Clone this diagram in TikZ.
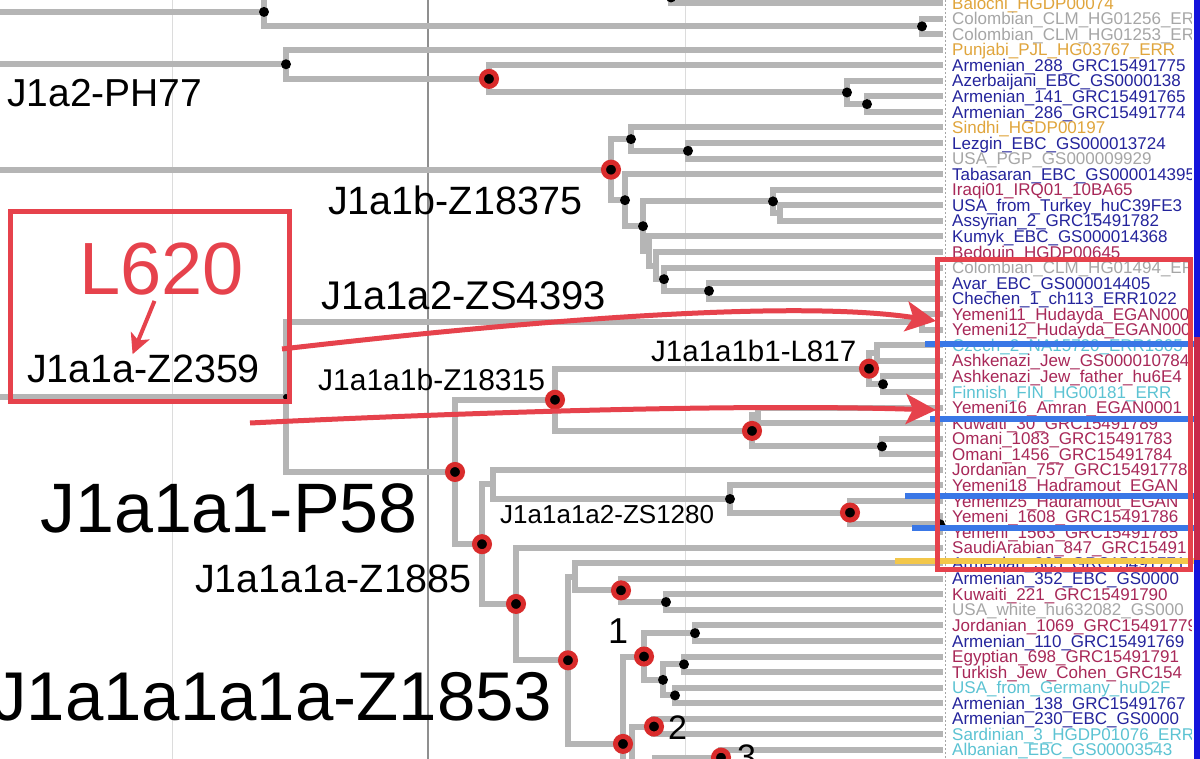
\documentclass[tikz,border=0pt]{standalone}
\usepackage{fontspec}
\setmainfont{Liberation Sans}
\usepackage{tikz}
\usetikzlibrary{arrows.meta,calc}
\definecolor{branchgray}{HTML}{B5B5B5}
\definecolor{gridlight}{HTML}{DCDCDC}
\definecolor{griddark}{HTML}{8F8F8F}
\definecolor{nodered}{HTML}{D92B2B}
\definecolor{markred}{HTML}{E6424C}
\definecolor{barblue}{HTML}{3A77E6}
\definecolor{baryellow}{HTML}{F3C74A}
\definecolor{stripblue}{HTML}{1414DC}
\definecolor{stripred}{HTML}{C8284A}
\definecolor{tgold}{HTML}{E0A53C}
\definecolor{tgray}{HTML}{A6A6A6}
\definecolor{tnavy}{HTML}{24249C}
\definecolor{tcrimson}{HTML}{A82858}
\definecolor{tcyan}{HTML}{5CC3D3}
\newcommand{\fsz}[1]{\fontsize{#1}{#1}\selectfont}
\tikzset{
  >={Stealth[length=30pt,width=30pt,inset=7pt]},
  branch/.style={draw=branchgray,line width=6pt},
  tipdot/.style={circle,fill=black,minimum size=10pt,inner sep=0pt},
  rootdot/.style={circle,fill=black,minimum size=6pt,inner sep=0pt},
  snpdot/.style={circle,fill=black,draw=nodered,line width=5pt,minimum size=15pt,inner sep=0pt},
  leaf/.style={anchor=base west,inner sep=0pt,font=\fsz{17}},
  clade/.style={anchor=base west,inner sep=0pt,text=black},
  hibar/.style={line width=6pt},
  markbox/.style={draw=markred,line width=5pt},
  markflow/.style={->,draw=markred,line width=5pt},
  pointer/.style={-{Stealth[length=20pt,width=20pt,inset=5pt]},draw=markred,line width=4pt},
}

\begin{document}
\begin{tikzpicture}[x=1pt,y=-1pt]
  \useasboundingbox (0,0) rectangle (1200,759);
  \clip (0,0) rectangle (1200,759);
  \fill[white] (0,0) rectangle (1200,759);
  \draw[gridlight,line width=1pt] (172,0) -- (172,759) (685,0) -- (685,759);
  \draw[griddark,line width=1.2pt] (428,0) -- (428,759);
  \draw[gray!70,line width=.8pt,dash pattern=on 2pt off 2pt] (945,0) -- (945,759);

  \coordinate (top) at (943,-8);
  \coordinate (bot) at (943,1114);
  \foreach \i in {1,...,50} \coordinate (l\i) at (943,{3+15.56*(\i-1)});
  \coordinate (Z0) at (671,-2.5);
  \coordinate (CF) at (922,26.34);
  \coordinate (A) at (264,11.92);
  \coordinate (A0) at (-10,11.92);
  \coordinate (E) at (867,104.14);
  \coordinate (D) at (847,92.47);
  \coordinate (C) at (489,78.86);
  \coordinate (B) at (286,64.27);
  \coordinate (B0) at (-10,64.27);
  \coordinate (G) at (688,150.82);
  \coordinate (H) at (631,139.15);
  \coordinate (L) at (780,213.06);
  \coordinate (K) at (773,201.39);
  \coordinate (P) at (709,290.86);
  \coordinate (O) at (664,279.19);
  \coordinate (N) at (656,265.58);
  \coordinate (M) at (649,250.99);
  \coordinate (J) at (643,226.19);
  \coordinate (I) at (625,200.18);
  \coordinate (F) at (611,169.67);
  \coordinate (F0) at (-10,169.67);
  \coordinate (Q) at (922,321.98);
  \coordinate (V) at (877,353.10);
  \coordinate (W) at (883,384.22);
  \coordinate (U) at (869,368.66);
  \coordinate (Y) at (758,415.34);
  \coordinate (Om) at (882,446.46);
  \coordinate (X) at (752,430.90);
  \coordinate (S) at (555,399.78);
  \coordinate (Yf) at (940,524.26);
  \coordinate (AB) at (850,512.59);
  \coordinate (AA) at (730,498.98);
  \coordinate (AC) at (493,484.39);
  \coordinate (AH) at (666,602.06);
  \coordinate (AF) at (621,590.39);
  \coordinate (AG) at (575,576.78);
  \coordinate (AK) at (695,633.18);
  \coordinate (AM) at (684,664.30);
  \coordinate (AN) at (675,695.42);
  \coordinate (AL) at (663,679.86);
  \coordinate (AJ) at (644,656.52);
  \coordinate (AO) at (654,726.54);
  \coordinate (AQ) at (721,757.66);
  \coordinate (AR) at (655,936);
  \coordinate (AP) at (632,831.3);
  \coordinate (AI) at (623,743.9);
  \coordinate (AE) at (568,660.3);
  \coordinate (AD) at (516,603.95);
  \coordinate (T) at (482,544.17);
  \coordinate (R) at (455,471.98);
  \coordinate (Zz) at (286,396.98);
  \coordinate (Zz0) at (-10,396.98);

  \draw[branch] (A0) -- (A) (B0) -- (B) (F0) -- (F) (Zz0) -- (Zz);
  \foreach \p/\c in {Z0/top,Z0/l1,A/Z0,A/CF,CF/l2,CF/l3,
    B/l4,B/C,C/l5,C/D,D/l6,D/E,E/l7,E/l8,
    F/H,F/I,H/l9,H/G,G/l10,G/l11,I/l12,I/J,J/K,J/M,K/l13,K/L,L/l14,L/l15,
    M/l16,M/N,N/l17,N/O,O/l18,O/P,P/l19,P/l20,
    Zz/Q,Zz/R,Q/l21,Q/l22,R/S,R/T,S/U,S/X,U/V,U/W,V/l23,V/l24,W/l25,W/l26,
    X/Y,X/Om,Y/l27,Y/l28,Om/l29,Om/l30,
    T/AC,T/AD,AC/l31,AC/AA,AA/l32,AA/AB,AB/l33,AB/Yf,Yf/l34,Yf/l35,
    AD/l36,AD/AE,AE/AG,AE/AI,AG/l37,AG/AF,AF/l38,AF/AH,AH/l39,AH/l40,
    AI/AJ,AI/AP,AJ/AK,AJ/AL,AK/l41,AK/l42,AL/AM,AL/AN,AM/l43,AM/l44,AN/l45,AN/l46,
    AP/AO,AP/AR,AO/l47,AO/l48,AR/AQ,AR/bot,AQ/l49,AQ/l50}
    \draw[branch] (\p) |- (\c);

  \foreach \n in {Z0,A,CF,B,D,E,H,G,I,J,K,O,P,W,Om,Yf,AA,AH,AK,AM,AN,AL}
    \node[tipdot] (\n-dot) at (\n) {};
  \foreach \n in {C,F,U,X,S,AB,AF,AJ,AO,AQ,AI,AE,AD,T,R}
    \node[snpdot] (\n-dot) at (\n) {};
  \node[rootdot] (Zz-dot) at (Zz) {};

  \begin{scope}
    \clip (940,-20) rectangle (1191,780);
    \foreach \i/\txt/\col in {
      1/Balochi\_HGDP00074/tgold,
      2/Colombian\_CLM\_HG01256\_ERR/tgray,
      3/Colombian\_CLM\_HG01253\_ERR/tgray,
      4/Punjabi\_PJL\_HG03767\_ERR/tgold,
      5/Armenian\_288\_GRC15491775/tnavy,
      6/Azerbaijani\_EBC\_GS0000138/tnavy,
      7/Armenian\_141\_GRC15491765/tnavy,
      8/Armenian\_286\_GRC15491774/tnavy,
      9/Sindhi\_HGDP00197/tgold,
      10/Lezgin\_EBC\_GS000013724/tnavy,
      11/USA\_PGP\_GS000009929/tgray,
      12/Tabasaran\_EBC\_GS000014395/tnavy,
      13/Iraqi01\_IRQ01\_10BA65/tcrimson,
      14/USA\_from\_Turkey\_huC39FE3/tnavy,
      15/Assyrian\_2\_GRC15491782/tnavy,
      16/Kumyk\_EBC\_GS000014368/tnavy,
      17/Bedouin\_HGDP00645/tcrimson,
      18/Colombian\_CLM\_HG01494\_ERR/tgray,
      19/Avar\_EBC\_GS000014405/tnavy,
      20/Chechen\_1\_ch113\_ERR1022/tnavy,
      21/Yemeni11\_Hudayda\_EGAN0001/tcrimson,
      22/Yemeni12\_Hudayda\_EGAN0001/tcrimson,
      23/Czech\_2\_NA15720\_ERR1305/tcyan,
      24/Ashkenazi\_Jew\_GS000010784/tcrimson,
      25/Ashkenazi\_Jew\_father\_hu6E4/tcrimson,
      26/Finnish\_FIN\_HG00181\_ERR/tcyan,
      27/Yemeni16\_Amran\_EGAN0001/tcrimson,
      28/Kuwaiti\_30\_GRC15491789/tcrimson,
      29/Omani\_1083\_GRC15491783/tcrimson,
      30/Omani\_1456\_GRC15491784/tcrimson,
      31/Jordanian\_757\_GRC15491778/tcrimson,
      32/Yemeni18\_Hadramout\_EGAN/tcrimson,
      33/Yemeni25\_Hadramout\_EGAN/tcrimson,
      34/Yemeni\_1608\_GRC15491786/tcrimson,
      35/Yemeni\_1563\_GRC15491785/tcrimson,
      36/SaudiArabian\_847\_GRC15491/tcrimson,
      37/Armenian\_365\_GRC15491771/tnavy,
      38/Armenian\_352\_EBC\_GS0000/tnavy,
      39/Kuwaiti\_221\_GRC15491790/tcrimson,
      40/USA\_white\_hu632082\_GS000/tgray,
      41/Jordanian\_1069\_GRC15491779/tcrimson,
      42/Armenian\_110\_GRC15491769/tnavy,
      43/Egyptian\_698\_GRC15491791/tcrimson,
      44/Turkish\_Jew\_Cohen\_GRC154/tcrimson,
      45/USA\_from\_Germany\_huD2F/tcyan,
      46/Armenian\_138\_GRC15491767/tnavy,
      47/Armenian\_230\_EBC\_GS0000/tnavy,
      48/Sardinian\_3\_HGDP01076\_ERR/tcyan,
      49/Albanian\_EBC\_GS00003543/tcyan}
      \node[leaf,text=\col] (t\i) at (952,{3+15.56*(\i-1)+6.1}) {\txt};
  \end{scope}

  \node[clade,font=\fsz{39}] (ph77) at (7,107) {J1a2-PH77};
  \node[clade,font=\fsz{39.5}] (z18375) at (328,215) {J1a1b-Z18375};
  \node[clade,font=\fsz{40}] (zs4393) at (321,310) {J1a1a2-ZS4393};
  \node[clade,font=\fsz{29.5}] (l817) at (651,362) {J1a1a1b1-L817};
  \node[clade,font=\fsz{30}] (z18315) at (318,390) {J1a1a1b-Z18315};
  \node[clade,font=\fsz{70}] (p58) at (40,532) {J1a1a1-P58};
  \node[clade,font=\fsz{26}] (zs1280) at (500,523) {J1a1a1a2-ZS1280};
  \node[clade,font=\fsz{39.5}] (z1885) at (195,592) {J1a1a1a-Z1885};
  \node[clade,font=\fsz{69}] (z1853) at (-8,720) {J1a1a1a1a-Z1853};
  \node[clade,font=\fsz{36}] (n1) at (608,643) {1};
  \node[clade,font=\fsz{34}] (n2) at (668,739) {2};
  \node[clade,font=\fsz{34}] (n3) at (737,768) {3};

  \draw[hibar,barblue] (925,344) -- (1200,344) (930,419) -- (1200,419)
    (905,496) -- (1200,496) (912,528) -- (1200,528);
  \draw[hibar,baryellow] (895,561) -- (1200,561);
  \fill[stripblue] (1194,0) rectangle (1200,337);
  \fill[stripred] (1194,337) rectangle (1200,560);
  \fill[stripblue] (1194,560) rectangle (1200,759);

  \draw[markbox] (10,212) rectangle (289,401);
  \draw[markbox] (937,260) rectangle (1190,569);
  \node[clade,text=markred,font=\fsz{74}] (l620) at (79,295) {L620};
  \node[clade,font=\fsz{39.5}] (z2359) at (27,382) {J1a1a-Z2359};
  \draw[pointer] ($(l620.south)+(-7,5)$) -- ($(z2359.north)+(-11,0)$);
  \coordinate (a1s) at (282,349);
  \coordinate (a1e) at (936,321);
  \coordinate (a2s) at (250,423);
  \coordinate (a2e) at (936,410);
  \draw[markflow] (a1s) .. controls (550,318) and (800,300) .. (a1e);
  \draw[markflow] (a2s) .. controls (500,411) and (750,404) .. (a2e);
\end{tikzpicture}
\end{document}
